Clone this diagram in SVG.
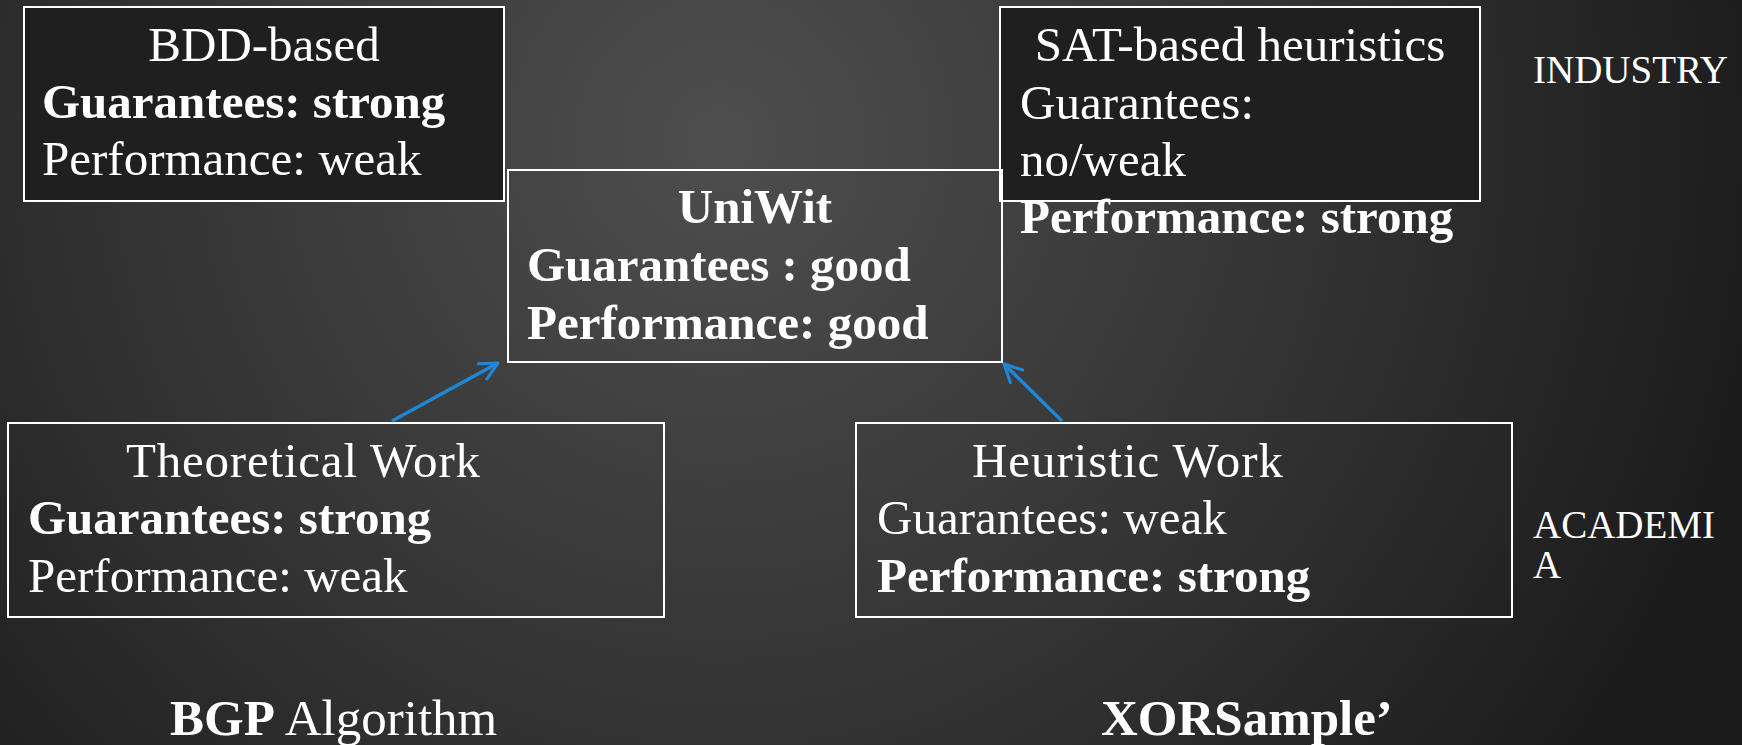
<svg xmlns="http://www.w3.org/2000/svg" width="1742" height="745" viewBox="0 0 1742 745">
  <defs>
    <radialGradient id="bg" gradientUnits="userSpaceOnUse" cx="720" cy="140" r="1050">
      <stop offset="0" stop-color="#4e4e4e"/>
      <stop offset="0.55" stop-color="#343434"/>
      <stop offset="1" stop-color="#1c1c1c"/>
    </radialGradient>
    <marker id="openArrow" viewBox="0 0 12 12" refX="11" refY="6" markerWidth="6" markerHeight="6" markerUnits="strokeWidth" orient="auto">
      <path d="M1,1 L11,6 L1,11" fill="none" stroke="#1f87d6" stroke-width="1.8" stroke-linecap="round" stroke-linejoin="round"/>
    </marker>
    <style>
      .box { stroke: #ffffff; stroke-width: 2; }
      .dark { fill: #1f1f1f; }
      .clear { fill: none; }
      text { font-family: "Liberation Serif", "DejaVu Serif", serif; fill: #ffffff; font-size: 49px; }
      .b { font-weight: bold; }
      .mid { text-anchor: middle; }
      .side { font-size: 39px; }
      .foot { font-size: 51px; }
      .conn { stroke: #1f87d6; stroke-width: 3.5; fill: none; marker-end: url(#openArrow); }
    </style>
  </defs>

  <rect x="0" y="0" width="1742" height="745" fill="url(#bg)"/>

  <g id="bdd">
    <rect class="box dark" x="24" y="7" width="480" height="194"/>
    <text class="mid" x="264" y="61">BDD-based</text>
    <text class="b" x="42" y="118">Guarantees: strong</text>
    <text x="42" y="175">Performance: weak</text>
  </g>

  <g id="sat">
    <rect class="box dark" x="1000" y="7" width="480" height="194"/>
    <text class="mid" x="1240" y="61">SAT-based heuristics</text>
    <text x="1020" y="119">Guarantees:</text>
    <text x="1020" y="176">no/weak</text>
    <text class="b" x="1020" y="233">Performance: strong</text>
  </g>

  <g id="uniwit">
    <rect class="box clear" x="508" y="170" width="494" height="192"/>
    <text class="b mid" x="755" y="223">UniWit</text>
    <text class="b" x="527" y="281">Guarantees : good</text>
    <text class="b" x="527" y="339">Performance: good</text>
  </g>

  <g id="theoretical">
    <rect class="box clear" x="8" y="423" width="656" height="194"/>
    <text x="126" y="477" textLength="354">Theoretical Work</text>
    <text class="b" x="28" y="534">Guarantees: strong</text>
    <text x="28" y="592">Performance: weak</text>
  </g>

  <g id="heuristic">
    <rect class="box clear" x="856" y="423" width="656" height="194"/>
    <text x="972" y="477" textLength="311">Heuristic Work</text>
    <text x="877" y="534">Guarantees: weak</text>
    <text class="b" x="877" y="592">Performance: strong</text>
  </g>

  <g id="industry">
    <text class="side" x="1533" y="83">INDUSTRY</text>
  </g>

  <g id="academia">
    <text class="side" x="1533" y="538">ACADEMI</text>
    <text class="side" x="1533" y="578">A</text>
  </g>

  <g id="bgp">
    <text class="foot" x="170" y="735"><tspan class="b">BGP</tspan> Algorithm</text>
  </g>

  <g id="xorsample">
    <text class="foot b" x="1101" y="735">XORSample’</text>
  </g>

  <g id="connectors">
    <line class="conn" x1="392" y1="421" x2="498" y2="363"/>
    <line class="conn" x1="1062" y1="421" x2="1004" y2="364"/>
  </g>
</svg>
